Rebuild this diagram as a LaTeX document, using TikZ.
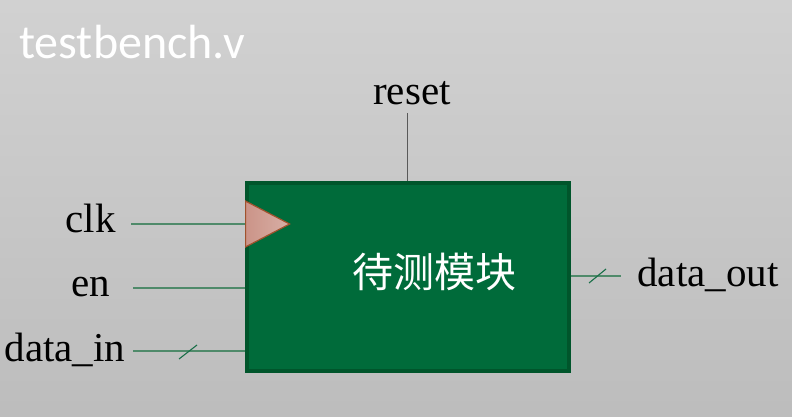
\documentclass[tikz,border=0pt]{standalone}
\usepackage{fontspec}
\setmainfont{Liberation Serif}
\newfontfamily\cjk{Noto Sans CJK SC}
\newfontfamily\calib{Carlito}
\usepackage{xcolor}
\usetikzlibrary{arrows.meta,positioning,shapes.geometric}
\definecolor{dutgreen}{HTML}{006B3A}
\definecolor{dutedge}{HTML}{00552B}
\definecolor{wire}{HTML}{4F8A6A}
\definecolor{clkfill}{HTML}{CB9488}
\definecolor{clkedge}{HTML}{A0522D}

\begin{document}
\begin{tikzpicture}[
  x=1pt,y=-1pt,
  dut/.style={draw=dutedge,line width=4pt,fill=dutgreen,minimum width=322pt,minimum height=188pt,inner sep=0pt},
  sig/.style={font=\fontsize{41}{41}\selectfont,text=black,inner sep=0pt},
  wireline/.style={draw=wire,line width=1.1pt},
  bus/.style={draw=dutgreen!80!gray,line width=1.1pt}
]
\useasboundingbox[shade,top color=black!18,bottom color=black!26] (0,0) rectangle (792,417);
\node[font=\calib\fontsize{48}{48}\selectfont,text=white,inner sep=0pt] (title) at (132,42) {testbench.v};
\node[dut] (block) at (407.5,276.5) {};
\node[font=\cjk\fontsize{41}{41}\selectfont,text=white,inner sep=0pt] (name) at (434,272) {待测模块};
\node[isosceles triangle,isosceles triangle apex angle=55,draw=clkedge,line width=1.2pt,left color=clkfill,right color=clkfill!75!white,
  minimum height=44pt,inner sep=0pt,anchor=lower side] (clktri) at (245,224) {};
% signal names
\node[sig,anchor=base] (reset) at (412,105) {reset};
\node[sig,anchor=base] (clk) at (90.5,232) {clk};
\node[sig,anchor=base] (en) at (90.5,296) {en};
\node[sig,anchor=base] (din) at (65,361) {data\_in};
\node[sig,anchor=base] (dout) at (708,286) {data\_out};
% free wire ends
\coordinate (clkend) at (131,224);
\coordinate (enend) at (133,288);
\coordinate (dinend) at (133,351);
\coordinate (doutend) at (621,276);
\coordinate (resetend) at (407,113);
\coordinate (dina) at (179,359);
\coordinate (dinb) at (197,345);
\coordinate (douta) at (589,283);
\coordinate (doutb) at (606,269);
\draw[wireline] (clkend) -- (block.west |- clkend);
\draw[wireline] (enend) -- (block.west |- enend);
\draw[wireline] (dinend) -- (block.west |- dinend);
\draw[wireline] (block.east |- doutend) -- (doutend);
\draw[draw=black!65,line width=1pt] (resetend) -- (block.north -| resetend);
\draw[bus] (dina) -- (dinb);
\draw[bus] (douta) -- (doutb);
\end{tikzpicture}
\end{document}
